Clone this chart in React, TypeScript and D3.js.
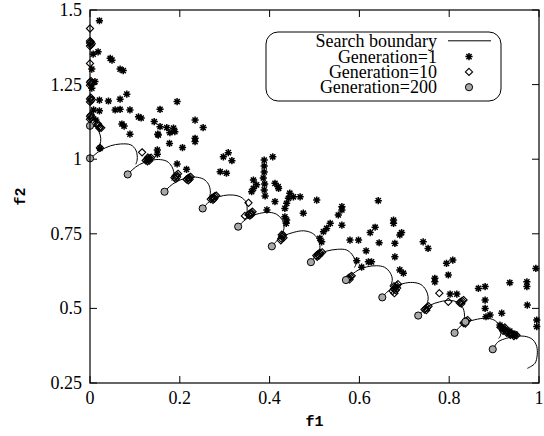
import React from "react";
import * as d3 from "d3";

// search boundary, one hook per segment as [f1, f2]
const boundarySegments: [number, number][][] = [
  [[0, 1.112], [0.013, 1.109], [0.02, 1.092], [0.024, 1.07], [0.022, 1.048], [0.016, 1.031]],
  [[0, 1.0], [0.009, 1.013], [0.024, 1.03], [0.046, 1.045], [0.068, 1.051], [0.091, 1.048], [0.102, 1.031], [0.105, 1.014], [0.105, 0.997], [0.102, 0.983]],
  [[0.084, 0.949], [0.094, 0.964], [0.11, 0.982], [0.131, 0.994], [0.152, 0.999], [0.171, 0.993], [0.182, 0.976], [0.187, 0.953], [0.186, 0.937], [0.182, 0.928]],
  [[0.166, 0.891], [0.177, 0.908], [0.193, 0.925], [0.213, 0.936], [0.235, 0.94], [0.253, 0.933], [0.264, 0.916], [0.268, 0.894], [0.267, 0.878], [0.263, 0.869]],
  [[0.251, 0.835], [0.262, 0.853], [0.277, 0.868], [0.297, 0.878], [0.318, 0.88], [0.336, 0.873], [0.347, 0.857], [0.35, 0.836], [0.349, 0.82], [0.345, 0.811]],
  [[0.33, 0.774], [0.341, 0.791], [0.357, 0.808], [0.377, 0.818], [0.399, 0.822], [0.416, 0.815], [0.427, 0.799], [0.432, 0.777], [0.431, 0.761], [0.427, 0.752]],
  [[0.405, 0.708], [0.416, 0.726], [0.432, 0.743], [0.454, 0.755], [0.476, 0.76], [0.495, 0.752], [0.507, 0.734], [0.512, 0.712], [0.511, 0.695], [0.507, 0.685]],
  [[0.492, 0.655], [0.498, 0.668], [0.508, 0.68], [0.527, 0.692], [0.551, 0.698], [0.571, 0.696], [0.583, 0.682], [0.59, 0.663], [0.592, 0.648], [0.589, 0.637]],
  [[0.57, 0.595], [0.578, 0.607], [0.597, 0.628], [0.616, 0.639], [0.638, 0.643], [0.656, 0.638], [0.667, 0.623], [0.673, 0.602], [0.672, 0.585], [0.668, 0.576]],
  [[0.651, 0.537], [0.661, 0.554], [0.677, 0.571], [0.697, 0.583], [0.719, 0.587], [0.737, 0.58], [0.748, 0.562], [0.753, 0.54], [0.752, 0.522], [0.748, 0.511]],
  [[0.731, 0.476], [0.742, 0.493], [0.758, 0.511], [0.779, 0.522], [0.801, 0.527], [0.819, 0.52], [0.83, 0.503], [0.834, 0.481], [0.833, 0.465], [0.829, 0.456]],
  [[0.812, 0.418], [0.822, 0.436], [0.836, 0.452], [0.857, 0.462], [0.881, 0.467], [0.9, 0.461], [0.911, 0.444], [0.915, 0.424], [0.914, 0.408], [0.91, 0.399]],
  [[0.897, 0.363], [0.909, 0.388], [0.928, 0.4], [0.95, 0.407], [0.973, 0.405], [0.987, 0.394], [0.995, 0.372], [0.996, 0.344], [0.991, 0.316], [0.974, 0.299]],
];

const gen1: [number, number][] = [
  [0.021, 1.464], [0.018, 1.36], [0.007, 1.352], [0.004, 1.302], [0.045, 1.338], [0.049, 1.332],
  [0.067, 1.302], [0.074, 1.297], [0.011, 1.26], [0.004, 1.238], [0.082, 1.218], [0.067, 1.201],
  [0.021, 1.198], [0.041, 1.195], [0.056, 1.165], [0.067, 1.167], [0.089, 1.165], [0.021, 1.162],
  [0.156, 1.167], [0.194, 1.193], [0.108, 1.142], [0.114, 1.138], [0.071, 1.118], [0.076, 1.111],
  [0.089, 1.084], [0.143, 1.126], [0.156, 1.109], [0.171, 1.106], [0.186, 1.104], [0.189, 1.092],
  [0.178, 1.089], [0.151, 1.084], [0.234, 1.131], [0.252, 1.106], [0.177, 1.053], [0.206, 1.039],
  [0.234, 1.07], [0.234, 1.059], [0.15, 1.031], [0.15, 1.017], [0.194, 0.984], [0.215, 0.966],
  [0.297, 1.008], [0.308, 1.022], [0.316, 0.995], [0.29, 0.958], [0.304, 0.953],
  [0.388, 0.997], [0.388, 0.977], [0.388, 0.957], [0.386, 0.937], [0.389, 0.917], [0.388, 0.897], [0.39, 0.877],
  [0.407, 1.008], [0.364, 0.93], [0.371, 0.914], [0.419, 0.908], [0.445, 0.886], [0.442, 0.869],
  [0.438, 0.852], [0.434, 0.835], [0.434, 0.807], [0.437, 0.785], [0.468, 0.874], [0.475, 0.819],
  [0.505, 0.863], [0.561, 0.841], [0.561, 0.83], [0.553, 0.813], [0.535, 0.785], [0.527, 0.768],
  [0.52, 0.757], [0.561, 0.779], [0.512, 0.735], [0.516, 0.723], [0.642, 0.861], [0.676, 0.796],
  [0.676, 0.785], [0.69, 0.746], [0.694, 0.754], [0.679, 0.718], [0.679, 0.673], [0.635, 0.772],
  [0.624, 0.754], [0.644, 0.72], [0.615, 0.693], [0.579, 0.729], [0.598, 0.729], [0.594, 0.66],
  [0.605, 0.638], [0.62, 0.656], [0.627, 0.656], [0.69, 0.629], [0.698, 0.618], [0.742, 0.723],
  [0.753, 0.701], [0.768, 0.601], [0.768, 0.589], [0.794, 0.651], [0.808, 0.662], [0.798, 0.612],
  [0.802, 0.548], [0.817, 0.548], [0.865, 0.567], [0.88, 0.573], [0.88, 0.528], [0.88, 0.5],
  [0.882, 0.472], [0.891, 0.478], [0.917, 0.484], [0.935, 0.586], [0.973, 0.589], [0.973, 0.573],
  [0.974, 0.511], [0.993, 0.634], [0.995, 0.461], [0.995, 0.439], [0.913, 0.444], [0.92, 0.434],
  [0.935, 0.424], [0.946, 0.414], [0.36, 0.891], [0.364, 0.902], [0.412, 0.919], [0.42, 0.902],
  [0.453, 0.874], [0.412, 0.858], [0.394, 0.83], [0.438, 0.796], [0.013, 1.131], [0.008, 1.165],
  [0.022, 1.036], [0.152, 1.081],
];

// generation 10: a few loose points, the rest packed into dark clusters
const gen10: [number, number][] = [
  [0, 1.438], [0, 1.321], [0.022, 1.038], [0.116, 1.023], [0.353, 0.854], [0.778, 0.551], [0.798, 0.522], [0.345, 0.81],
  [0, 1.379], [0.002, 1.383], [0.004, 1.387], [0, 1.389], [0.002, 1.393], [0, 1.396],
  [0, 1.248], [0.002, 1.252], [0.004, 1.256], [0, 1.258], [0.002, 1.262],
  [0, 1.192], [0.002, 1.196], [0.004, 1.2], [0, 1.202], [0.002, 1.206],
  [0, 1.134], [0.002, 1.138], [0.004, 1.142], [0, 1.144], [0.002, 1.148],
  [0.016, 1.115], [0.019, 1.112], [0.022, 1.108], [0.025, 1.105], [0.018, 1.118], [0.021, 1.104],
  [0.124, 0.996], [0.127, 0.999], [0.13, 1.001], [0.133, 1.003], [0.136, 1.005], [0.128, 0.993], [0.132, 0.995], [0.129, 1.006],
  [0.188, 0.938], [0.19, 0.943], [0.193, 0.947], [0.196, 0.951], [0.191, 0.934], [0.194, 0.94],
  [0.215, 0.932], [0.218, 0.936], [0.221, 0.939], [0.224, 0.941], [0.219, 0.929], [0.222, 0.933],
  [0.269, 0.866], [0.272, 0.87], [0.275, 0.873], [0.278, 0.876], [0.281, 0.878], [0.274, 0.864], [0.277, 0.868],
  [0.353, 0.814], [0.356, 0.818], [0.359, 0.821], [0.362, 0.824], [0.356, 0.811], [0.36, 0.815],
  [0.425, 0.728], [0.426, 0.734], [0.428, 0.74], [0.43, 0.746], [0.431, 0.737], [0.427, 0.747],
  [0.504, 0.677], [0.507, 0.681], [0.51, 0.684], [0.513, 0.686], [0.517, 0.688], [0.506, 0.673], [0.51, 0.677],
  [0.574, 0.599], [0.577, 0.603], [0.58, 0.606], [0.583, 0.609], [0.578, 0.597],
  [0.674, 0.558], [0.677, 0.565], [0.68, 0.571], [0.683, 0.576], [0.686, 0.581], [0.678, 0.551], [0.681, 0.561], [0.684, 0.568], [0.677, 0.574],
  [0.745, 0.496], [0.748, 0.5], [0.751, 0.503], [0.754, 0.507], [0.749, 0.494],
  [0.823, 0.519], [0.826, 0.522], [0.829, 0.525], [0.832, 0.528], [0.827, 0.516],
  [0.832, 0.451], [0.835, 0.455], [0.838, 0.458], [0.841, 0.461], [0.836, 0.449],
  [0.914, 0.437], [0.918, 0.434], [0.922, 0.43], [0.926, 0.426], [0.93, 0.422], [0.934, 0.418], [0.938, 0.415],
  [0.942, 0.413], [0.946, 0.411], [0.95, 0.41], [0.92, 0.425], [0.928, 0.418], [0.936, 0.411], [0.944, 0.407], [0.924, 0.436],
];

const gen200: [number, number][] = [
  [0, 1.112], [0, 1.003], [0.084, 0.949], [0.166, 0.891], [0.251, 0.835], [0.33, 0.774],
  [0.405, 0.708], [0.492, 0.655], [0.57, 0.595], [0.651, 0.537], [0.731, 0.476], [0.812, 0.418],
  [0.897, 0.363], [0.836, 0.455],
];

const xTicks = [0, 0.2, 0.4, 0.6, 0.8, 1];
const yTicks = [0.25, 0.5, 0.75, 1, 1.25, 1.5];
const legendLabels = ["Search boundary", "Generation=1", "Generation=10", "Generation=200"];

const W = 544;
const H = 436;
const L = 90, R = 539, T = 10, B = 383;
const serif = "'Liberation Serif', 'Times New Roman', serif";
const mono = "'Liberation Mono', 'Courier New', monospace";

const x = d3.scaleLinear().domain([0, 1]).range([L, R]);
const y = d3.scaleLinear().domain([0.25, 1.5]).range([B, T]);

const hookLine = d3
  .line<[number, number]>()
  .x((d) => x(d[0]))
  .y((d) => y(d[1]))
  .curve(d3.curveCatmullRom.alpha(0.5));

const star = (s: number) => {
  const k = s * 0.72;
  return `M${-s},0H${s}M0,${-s}V${s}M${-k},${-k}L${k},${k}M${-k},${k}L${k},${-k}`;
};
const diamond = (s: number) => `M0,${-s}L${s},0L0,${s}L${-s},0Z`;

const Star = ({ cx, cy }: { cx: number; cy: number }) => (
  <path d={star(3.6)} transform={`translate(${cx},${cy})`} stroke="#000" strokeWidth={1.5} fill="none" />
);
const Diamond = ({ cx, cy }: { cx: number; cy: number }) => (
  <path d={diamond(3.6)} transform={`translate(${cx},${cy})`} stroke="#000" strokeWidth={1.1} fill="none" />
);
const Dot = ({ cx, cy }: { cx: number; cy: number }) => (
  <circle cx={cx} cy={cy} r={3.6} fill="#a8a8a8" stroke="#000" strokeWidth={1} />
);

export default function App() {
  const lx = 437;
  const ly = [47.3, 62.6, 77.9, 93.2];
  return (
    <svg width={W} height={H} style={{ position: "absolute", left: 0, top: 0, background: "#fff" }}>
      <rect x={0} y={0} width={W} height={H} fill="#fff" />

      {/* ticks, mirrored on all four sides */}
      <g stroke="#000" strokeWidth={1}>
        {xTicks.map((t) => (
          <g key={"x" + t}>
            <line x1={x(t)} x2={x(t)} y1={B} y2={B - 7} />
            <line x1={x(t)} x2={x(t)} y1={T} y2={T + 7} />
          </g>
        ))}
        {yTicks.map((t) => (
          <g key={"y" + t}>
            <line x1={L} x2={L + 7} y1={y(t)} y2={y(t)} />
            <line x1={R} x2={R - 7} y1={y(t)} y2={y(t)} />
          </g>
        ))}
      </g>

      <g fontFamily={serif} fontSize={18} fill="#000">
        {xTicks.map((t) => (
          <text key={"xl" + t} x={x(t)} y={B + 21} textAnchor="middle">
            {d3.format("")(t)}
          </text>
        ))}
        {yTicks.map((t) => (
          <text key={"yl" + t} x={L - 8} y={y(t) + 6} textAnchor="end">
            {d3.format("")(t)}
          </text>
        ))}
      </g>

      <text x={(L + R) / 2} y={426} textAnchor="middle" fontFamily={mono} fontWeight="bold" fontSize={15}>
        f1
      </text>
      <text
        transform={`translate(25,${(T + B) / 2}) rotate(-90)`}
        textAnchor="middle"
        fontFamily={mono}
        fontWeight="bold"
        fontSize={15}
      >
        f2
      </text>

      {/* boundary */}
      <g fill="none" stroke="#000" strokeWidth={1}>
        {boundarySegments.map((seg, i) => (
          <path key={i} d={hookLine(seg) || ""} />
        ))}
      </g>

      {gen1.map((d, i) => (
        <Star key={"g1" + i} cx={x(d[0])} cy={y(d[1])} />
      ))}
      {gen10.map((d, i) => (
        <Diamond key={"g10" + i} cx={x(d[0])} cy={y(d[1])} />
      ))}
      {gen200.map((d, i) => (
        <Dot key={"g200" + i} cx={x(d[0])} cy={y(d[1])} />
      ))}

      {/* legend */}
      <rect x={266} y={32} width={235} height={69} rx={12} ry={12} fill="none" stroke="#000" strokeWidth={1} />
      <g fontFamily={serif} fontSize={18} fill="#000">
        {legendLabels.map((s, i) => (
          <text key={s} x={lx} y={ly[i]} textAnchor="end">
            {s}
          </text>
        ))}
      </g>
      <line x1={448} x2={491} y1={ly[0] - 6.5} y2={ly[0] - 6.5} stroke="#000" strokeWidth={1} />
      <Star cx={469} cy={ly[1] - 6} />
      <Diamond cx={469} cy={ly[2] - 6} />
      <Dot cx={469} cy={ly[3] - 6} />

      {/* frame */}
      <rect x={L} y={T} width={R - L} height={B - T} fill="none" stroke="#000" strokeWidth={1.2} />
    </svg>
  );
}
